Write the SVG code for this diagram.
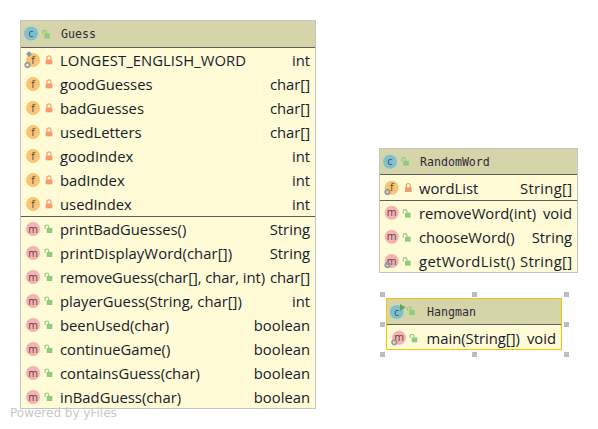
<svg xmlns="http://www.w3.org/2000/svg" width="598" height="429" viewBox="0 0 598 429">
<style>
.box{fill:#fffbd6;stroke:#c4c4c4;stroke-width:1}
.head{fill:#d6d4a9}
.sep{stroke:#5c5c5c;stroke-width:1;fill:none}
.t{font-family:"Open Sans","Noto Sans","DejaVu Sans",sans-serif;font-size:14.8px;fill:#14202c}
.e{text-anchor:end}
.title{font-family:"DejaVu Sans Mono","Liberation Mono",monospace;font-size:11.6px;fill:#2f2a38}
.ic{font-family:"Open Sans","DejaVu Sans",sans-serif;font-size:10.5px;fill:#564a42;text-anchor:middle}
.handle{fill:#bdbdbd}
</style>
<defs>
<g id="lock"><rect x="-3.300" y="-0.500" width="6.600" height="4.800" fill="#f49c6c"/><path d="M-2-0.500V-2.200a2 2 0 0 1 4 0V-0.500" fill="none" stroke="#f49c6c" stroke-width="1.200"/></g>
<g id="open"><rect x="-1.300" y="-2" width="5.600" height="5" fill="#93cb7d"/><path d="M-3-1.200V-3.200a1.800 1.800 0 0 1 3.600 0V-2" fill="none" stroke="#93cb7d" stroke-width="1.200"/></g>
<g id="gear"><circle r="2.300" fill="none" stroke="#8d98a8" stroke-width="1.700"/></g>
<circle id="fc" r="7" fill="#f9c574"/>
<circle id="mc" r="7" fill="#f8b1b1"/>
<circle id="cc" r="7" fill="#7cc0d2"/>
</defs>
<g id="connectors"></g>

<g id="node-guess">
<rect class="box" x="20.500" y="20.500" width="295" height="388"/>
<rect class="head" x="21" y="21" width="294" height="26"/>
<path class="sep" d="M21 47.500H315M21 216.500H315"/>
<use href="#cc" x="31" y="33.500"/><text class="ic" x="31" y="37">c</text><use href="#open" x="45.600" y="35.300"/>
<text class="title" x="61" y="38">Guess</text>
<use href="#fc" x="33" y="60"/><text class="ic" x="33" y="63.500">f</text><use href="#lock" x="49" y="60"/>
<path d="M26 54l3-3 3 3-3 3z" fill="#8d98a8"/><use href="#gear" x="27.500" y="65"/>
<text class="t" x="60" y="66" textLength="186">LONGEST_ENGLISH_WORD</text><text class="t e" x="310" y="66">int</text>
<use href="#fc" x="33" y="84"/><text class="ic" x="33" y="87.500">f</text><use href="#lock" x="49" y="84"/>
<text class="t" x="60" y="90">goodGuesses</text><text class="t e" x="310" y="90">char[]</text>
<use href="#fc" x="33" y="108"/><text class="ic" x="33" y="111.500">f</text><use href="#lock" x="49" y="108"/>
<text class="t" x="60" y="114">badGuesses</text><text class="t e" x="310" y="114">char[]</text>
<use href="#fc" x="33" y="132"/><text class="ic" x="33" y="135.500">f</text><use href="#lock" x="49" y="132"/>
<text class="t" x="60" y="138">usedLetters</text><text class="t e" x="310" y="138">char[]</text>
<use href="#fc" x="33" y="156"/><text class="ic" x="33" y="159.500">f</text><use href="#lock" x="49" y="156"/>
<text class="t" x="60" y="162">goodIndex</text><text class="t e" x="310" y="162">int</text>
<use href="#fc" x="33" y="180"/><text class="ic" x="33" y="183.500">f</text><use href="#lock" x="49" y="180"/>
<text class="t" x="60" y="186">badIndex</text><text class="t e" x="310" y="186">int</text>
<use href="#fc" x="33" y="204"/><text class="ic" x="33" y="207.500">f</text><use href="#lock" x="49" y="204"/>
<text class="t" x="60" y="210">usedIndex</text><text class="t e" x="310" y="210">int</text>
<use href="#mc" x="33" y="229"/><text class="ic" x="33" y="232.500">m</text><use href="#open" x="48" y="230"/>
<text class="t" x="60" y="235">printBadGuesses()</text><text class="t e" x="310" y="235">String</text>
<use href="#mc" x="33" y="253"/><text class="ic" x="33" y="256.500">m</text><use href="#open" x="48" y="254"/>
<text class="t" x="60" y="259" textLength="172">printDisplayWord(char[])</text><text class="t e" x="310" y="259">String</text>
<use href="#mc" x="33" y="277"/><text class="ic" x="33" y="280.500">m</text><use href="#open" x="48" y="278"/>
<text class="t" x="60" y="283" textLength="205">removeGuess(char[], char, int)</text><text class="t e" x="310" y="283">char[]</text>
<use href="#mc" x="33" y="301"/><text class="ic" x="33" y="304.500">m</text><use href="#open" x="48" y="302"/>
<text class="t" x="60" y="307">playerGuess(String, char[])</text><text class="t e" x="310" y="307">int</text>
<use href="#mc" x="33" y="325"/><text class="ic" x="33" y="328.500">m</text><use href="#open" x="48" y="326"/>
<text class="t" x="60" y="331">beenUsed(char)</text><text class="t e" x="310" y="331">boolean</text>
<use href="#mc" x="33" y="349"/><text class="ic" x="33" y="352.500">m</text><use href="#open" x="48" y="350"/>
<text class="t" x="60" y="355">continueGame()</text><text class="t e" x="310" y="355">boolean</text>
<use href="#mc" x="33" y="373"/><text class="ic" x="33" y="376.500">m</text><use href="#open" x="48" y="374"/>
<text class="t" x="60" y="379">containsGuess(char)</text><text class="t e" x="310" y="379">boolean</text>
<use href="#mc" x="33" y="397"/><text class="ic" x="33" y="400.500">m</text><use href="#open" x="48" y="398"/>
<text class="t" x="60" y="403">inBadGuess(char)</text><text class="t e" x="310" y="403">boolean</text>
</g>

<g id="node-randomword">
<rect class="box" x="379.500" y="148.500" width="198" height="124"/>
<rect class="head" x="380" y="149" width="197" height="25"/>
<path class="sep" d="M380 174.500H577M380 200.500H577"/>
<use href="#cc" x="390" y="161.700"/><text class="ic" x="390" y="165.200">c</text><use href="#open" x="404.600" y="162.700"/>
<text class="title" x="420" y="166">RandomWord</text>
<use href="#fc" x="391.700" y="187.700"/><text class="ic" x="391.700" y="191.200">f</text><use href="#gear" x="387.500" y="192"/><use href="#lock" x="408.300" y="187.700"/>
<text class="t" x="419" y="194">wordList</text><text class="t e" x="572" y="194" textLength="52">String[]</text>
<use href="#mc" x="391.700" y="212.700"/><text class="ic" x="391.700" y="216.200">m</text><use href="#open" x="406.300" y="214.700"/>
<text class="t" x="419" y="219">removeWord(int)</text><text class="t e" x="572" y="219">void</text>
<use href="#mc" x="391.700" y="236.700"/><text class="ic" x="391.700" y="240.200">m</text><use href="#open" x="406.300" y="238.700"/>
<text class="t" x="419" y="243">chooseWord()</text><text class="t e" x="572" y="243">String</text>
<use href="#mc" x="391.700" y="261"/><text class="ic" x="391.700" y="264.500">m</text><use href="#gear" x="387.500" y="265"/><use href="#open" x="406.300" y="262.700"/>
<text class="t" x="419" y="267" textLength="96">getWordList()</text><text class="t e" x="572" y="267" textLength="52">String[]</text>
</g>

<g id="node-hangman">
<rect class="box" x="386.500" y="298.500" width="175" height="51" style="stroke:#f7c200"/>
<rect class="head" x="387" y="299" width="174" height="25"/>
<path class="sep" d="M387 324.500H561"/>
<use href="#cc" x="396.700" y="312"/><text class="ic" x="396.700" y="315.500">c</text><path d="M400 304l5.500 3.500-5.500 3.500z" fill="#58ab50"/><use href="#open" x="410.600" y="312"/>
<text class="title" x="427" y="316">Hangman</text>
<use href="#mc" x="399" y="337.700"/><text class="ic" x="399" y="341.200">m</text><use href="#gear" x="394.300" y="342.300"/><use href="#open" x="413" y="339.300"/>
<text class="t" x="426.500" y="344">main(String[])</text><text class="t e" x="556" y="344">void</text>
<rect class="handle" x="380" y="292" width="5" height="5"/><rect class="handle" x="472" y="292" width="5" height="5"/><rect class="handle" x="564" y="292" width="5" height="5"/>
<rect class="handle" x="380" y="322" width="5" height="5"/><rect class="handle" x="564" y="322" width="5" height="5"/>
<rect class="handle" x="380" y="352" width="5" height="5"/><rect class="handle" x="472" y="352" width="5" height="5"/><rect class="handle" x="564" y="352" width="5" height="5"/>
</g>

<text x="10" y="417" style="font-family:'DejaVu Sans',sans-serif;font-size:12px;fill:#c8c8c8">Powered by yFiles</text>
</svg>
